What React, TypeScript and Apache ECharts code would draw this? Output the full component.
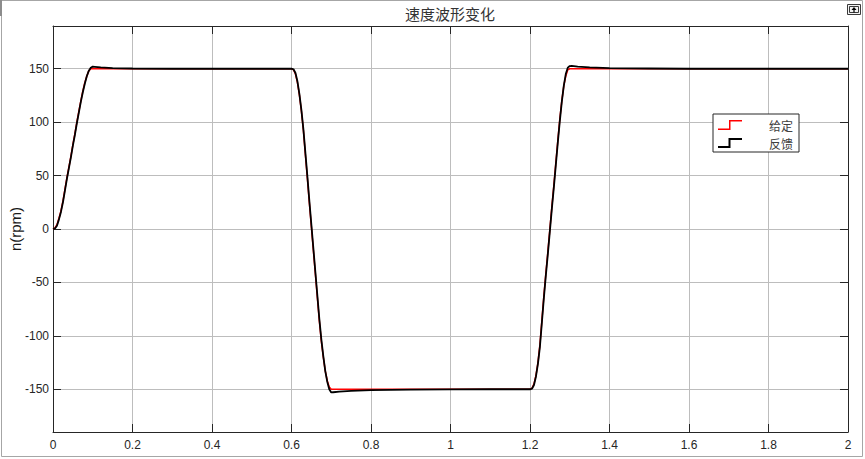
import React, { useEffect, useRef } from "react";
import * as echarts from "echarts";

const titleText = "速度波形变化";
const yName = "n(rpm)";
const seriesNames = ["给定", "反馈"];

const times = [
  0, 0.005, 0.01, 0.015, 0.02, 0.025, 0.03, 0.035, 0.04, 0.045, 0.05, 0.055, 0.06, 0.065, 0.07, 0.075, 0.08, 0.085, 0.09, 0.095, 0.1,
  0.105, 0.12, 0.15, 0.2, 0.3, 0.4, 0.5, 0.6,
  0.605, 0.61, 0.615, 0.62, 0.625, 0.63, 0.635, 0.64, 0.645, 0.65, 0.655, 0.66, 0.665, 0.67, 0.675, 0.68, 0.685, 0.69, 0.695, 0.7,
  0.705, 0.72, 0.75, 0.8, 0.9, 1.0, 1.1, 1.2,
  1.205, 1.21, 1.215, 1.22, 1.225, 1.23, 1.235, 1.24, 1.245, 1.25, 1.255, 1.26, 1.265, 1.27, 1.275, 1.28, 1.285, 1.29, 1.295, 1.3,
  1.305, 1.32, 1.35, 1.4, 1.5, 1.6, 1.8, 2.0,
];

const given = [
  0, 1, 4, 10, 17, 26, 37, 48, 58, 68, 79, 89, 100, 110, 120, 129, 137, 143, 148, 150, 150,
  150, 150, 150, 150, 150, 150, 150, 150,
  149, 145, 137, 125, 110, 92, 69, 47, 24, 2, -20, -42, -64, -86, -105, -120, -133, -142, -148, -150,
  -150, -150, -150, -150, -150, -150, -150, -150,
  -149, -145, -137, -125, -108, -85, -62, -41, -21, 0, 21, 41, 62, 83, 103, 120, 134, 143, 149, 150,
  150, 150, 150, 150, 150, 150, 150, 150,
];

const feedback = [
  0, 0.5, 3, 9, 16, 25, 36, 47, 57, 67, 78, 88, 99, 109, 119, 128, 136, 143, 148, 151, 152,
  151.8, 151.2, 150.6, 150.2, 150, 150, 150, 150,
  149.5, 146, 138, 126, 111, 93, 71, 49, 26, 4, -18, -40, -62, -84, -103, -119, -133, -143, -150, -153,
  -152.8, -152.2, -151.5, -150.8, -150.3, -150.1, -150, -150,
  -149.5, -146, -138, -126, -110, -87, -64, -43, -23, -2, 19, 39, 60, 81, 101, 119, 134, 145, 151, 152.5,
  152.6, 152, 151.2, 150.5, 150.2, 150, 150, 150,
];

const xRange = [0, 2];
const xStep = 0.2;
const yRange = [-190, 190];

const AXIS_COLOR = "#262626";
const GRID_COLOR = "#bdbdbd";
const LABEL_FONT = "'Liberation Sans', Arial, sans-serif";
const CJK_FONT = "'Noto Sans CJK SC', sans-serif";

export default function App() {
  const ref = useRef<HTMLDivElement>(null);

  useEffect(() => {
    if (!ref.current) return;
    const chart = echarts.init(ref.current, null, { renderer: "svg" });

    const givenData = times.map((t, i) => [t, given[i]]);
    const feedbackData = times.map((t, i) => [t, feedback[i]]);

    const iconRed = "path://M0,8.5 L11,8.5 L11,0 L24,0 L24,1.5 L12.5,1.5 L12.5,10 L0,10 Z";
    const iconBlack = "path://M0,8 L10.5,8 L10.5,0 L24,0 L24,2 L12.5,2 L12.5,10 L0,10 Z";

    const baseX = {
      type: "value" as const,
      min: xRange[0],
      max: xRange[1],
      interval: xStep,
    };
    const baseY = {
      type: "value" as const,
      min: yRange[0],
      max: yRange[1],
      splitNumber: 8,
    };

    chart.setOption({
      animation: false,
      backgroundColor: "#ffffff",
      title: {
        text: titleText,
        left: 405,
        top: 6,
        padding: 0,
        textStyle: {
          fontFamily: CJK_FONT,
          fontSize: 15,
          fontWeight: "normal",
          color: "#333333",
        },
      },
      grid: { left: 53, right: 17, top: 26, bottom: 27, containLabel: false, outerBoundsMode: "none" },
      legend: {
        orient: "vertical",
        left: 713,
        top: 114,
        padding: [4, 6, 2, 5],
        itemGap: 4,
        itemWidth: 24,
        itemHeight: 10,
        borderColor: AXIS_COLOR,
        borderWidth: 1,
        backgroundColor: "#ffffff",
        textStyle: {
          fontFamily: CJK_FONT,
          fontSize: 12,
          lineHeight: 14,
          color: "#404040",
          padding: [0, 0, 0, 22],
        },
        data: [
          { name: seriesNames[0], icon: iconRed },
          { name: seriesNames[1], icon: iconBlack },
        ],
      },
      xAxis: [
        {
          ...baseX,
          position: "bottom",
          axisLine: { show: true, onZero: false, lineStyle: { color: AXIS_COLOR, width: 1 } },
          axisTick: { show: true, inside: true, length: 8, lineStyle: { color: AXIS_COLOR } },
          axisLabel: { color: AXIS_COLOR, fontSize: 12, fontFamily: LABEL_FONT, margin: 7 },
          splitLine: { show: true, lineStyle: { color: GRID_COLOR, width: 1 } },
        },
        {
          ...baseX,
          position: "top",
          axisLine: { show: true, onZero: false, lineStyle: { color: AXIS_COLOR, width: 1 } },
          axisTick: { show: true, inside: true, length: 8, lineStyle: { color: AXIS_COLOR } },
          axisLabel: { show: false },
          splitLine: { show: false },
        },
      ],
      yAxis: [
        {
          ...baseY,
          position: "left",
          name: yName,
          nameLocation: "middle",
          nameGap: 30,
          nameMoveOverlap: false,
          nameTextStyle: { color: "#1a1a1a", fontSize: 15, fontFamily: LABEL_FONT },
          axisLine: { show: true, onZero: false, lineStyle: { color: AXIS_COLOR, width: 1 } },
          axisTick: { show: true, inside: true, length: 8, lineStyle: { color: AXIS_COLOR } },
          axisLabel: {
            color: AXIS_COLOR,
            fontSize: 12,
            fontFamily: LABEL_FONT,
            margin: 4,
            showMinLabel: false,
            showMaxLabel: false,
          },
          splitLine: { show: true, lineStyle: { color: GRID_COLOR, width: 1 } },
        },
        {
          ...baseY,
          position: "right",
          axisLine: { show: true, onZero: false, lineStyle: { color: AXIS_COLOR, width: 1 } },
          axisTick: { show: true, inside: true, length: 8, lineStyle: { color: AXIS_COLOR } },
          axisLabel: { show: false },
          splitLine: { show: false },
        },
      ],
      series: [
        {
          name: seriesNames[0],
          type: "line",
          xAxisIndex: 0,
          yAxisIndex: 0,
          data: givenData,
          showSymbol: false,
          smooth: false,
          lineStyle: { color: "#ff0000", width: 1.5 },
          itemStyle: { color: "#ff0000" },
          z: 2,
        },
        {
          name: seriesNames[1],
          type: "line",
          xAxisIndex: 0,
          yAxisIndex: 0,
          data: feedbackData,
          showSymbol: false,
          smooth: false,
          lineStyle: { color: "#000000", width: 1.8 },
          itemStyle: { color: "#000000" },
          z: 3,
        },
      ],
      graphic: [
        {
          type: "rect",
          silent: true,
          shape: { x: 1.5, y: 0.5, width: 861, height: 456 },
          style: { fill: "none", stroke: "#a6a6a6", lineWidth: 1 },
        },
        {
          type: "rect",
          silent: true,
          shape: { x: 0, y: 0, width: 2, height: 16 },
          style: { fill: "#8c8c8c" },
        },
        {
          type: "rect",
          silent: true,
          shape: { x: 847.5, y: 4.5, width: 13, height: 10 },
          style: { fill: "#f2f2f2", stroke: "#3a3a3a", lineWidth: 1 },
        },
        {
          type: "rect",
          silent: true,
          shape: { x: 849.5, y: 6.5, width: 9, height: 6 },
          style: { fill: "none", stroke: "#3a3a3a", lineWidth: 1 },
        },
        {
          type: "polygon",
          silent: true,
          shape: { points: [[854, 7], [851.5, 10], [856.5, 10]] },
          style: { fill: "#000000" },
        },
        {
          type: "line",
          silent: true,
          shape: { x1: 854, y1: 10, x2: 854, y2: 12.5 },
          style: { stroke: "#000000", lineWidth: 1.2 },
        },
      ],
    });

    return () => chart.dispose();
  }, []);

  return (
    <div
      ref={ref}
      style={{ position: "fixed", left: 0, top: 0, width: 865, height: 459, background: "#fff" }}
    />
  );
}
